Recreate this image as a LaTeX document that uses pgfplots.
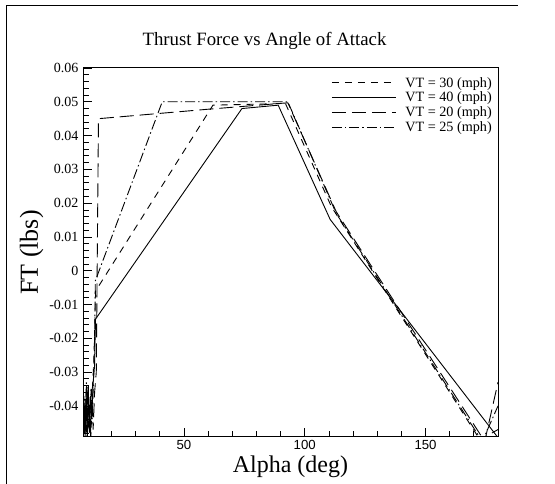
\documentclass[border=0pt]{standalone}
\usepackage{pgfplots}
\pgfplotsset{compat=1.18}
\usepackage{fontspec}
\setmainfont{Liberation Serif}
\newfontfamily\sansnum{Liberation Sans}
\newcommand\yt{\fontsize{14bp}{16bp}\selectfont}
\newcommand\xt{\sansnum\fontsize{13.2bp}{15bp}\selectfont}

% thrust force curves, one table per tunnel speed
\pgfplotstableread{
alpha ft
8.3 -0.049
8.6 -0.037
9.0 -0.048
9.4 -0.041
9.8 -0.050
10.2 -0.036
10.6 -0.047
11.0 -0.039
11.5 -0.049
12.0 -0.036
12.6 -0.028
13.1 -0.016
13.4 -0.006
62 0.0490
92 0.0495
111 0.0190
172.5 -0.0500
180 -0.0470
}\vtthirty
\pgfplotstableread{
alpha ft
8.3 -0.046
8.7 -0.039
9.1 -0.049
9.5 -0.036
9.9 -0.047
10.4 -0.034
10.8 -0.048
11.3 -0.037
11.8 -0.044
12.4 -0.033
13.0 -0.028
13.2 -0.020
13.4 -0.0143
74 0.0480
89 0.0490
110.5 0.0152
180 -0.0494
}\vtforty
\pgfplotstableread{
alpha ft
8.3 -0.044
8.7 -0.049
9.1 -0.038
9.5 -0.048
9.9 -0.034
10.3 -0.045
10.8 -0.040
11.3 -0.049
11.8 -0.035
12.4 -0.047
13.0 -0.036
13.7 -0.030
14.6 0.0450
60 0.0478
93 0.0497
113 0.0175
174.5 -0.0505
180 -0.0330
}\vttwenty
\pgfplotstableread{
alpha ft
8.3 -0.048
8.7 -0.041
9.1 -0.046
9.6 -0.033
10.0 -0.049
10.5 -0.038
11.0 -0.047
11.5 -0.035
12.0 -0.044
12.6 -0.031
13.0 -0.022
13.3 -0.003
41 0.0500
93 0.0500
113 0.0170
173.5 -0.0505
180 -0.0400
}\vttwentyfive

\begin{document}
\begin{tikzpicture}[x=1bp,y=1bp]
\useasboundingbox (0,0) rectangle (555,484);
% page frame
\draw[line width=1bp] (6,0) -- (6,478) -- (518,478);
\node[anchor=base,font=\fontsize{18.8bp}{21bp}\selectfont] at (264.5,438) {Thrust Force vs Angle of Attack};
\begin{axis}[
  at={(83bp,47bp)}, anchor=south west,
  scale only axis, width=415bp, height=369bp,
  xmin=8.2, xmax=180, ymin=-0.0492, ymax=0.06,
  axis line style={line width=1bp},
  tick align=inside, xtick pos=left, ytick pos=left,
  xtick={50,100,150},
  xticklabels={{\xt 50},{\xt 100},{\xt 150}},
  minor xtick={10,20,30,40,60,70,80,90,110,120,130,140,160,170},
  ytick={-0.04,-0.03,-0.02,-0.01,0,0.01,0.02,0.03,0.04,0.05,0.06},
  yticklabels={{\yt -0.04},{\yt -0.03},{\yt -0.02},{\yt -0.01},{\yt 0},{\yt 0.01},{\yt 0.02},{\yt 0.03},{\yt 0.04},{\yt 0.05},{\yt 0.06}},
  minor ytick={-0.048,-0.046,-0.044,-0.042,-0.038,-0.036,-0.034,-0.032,-0.028,-0.026,-0.024,-0.022,-0.018,-0.016,-0.014,-0.012,-0.008,-0.006,-0.004,-0.002,0.002,0.004,0.006,0.008,0.012,0.014,0.016,0.018,0.022,0.024,0.026,0.028,0.032,0.034,0.036,0.038,0.042,0.044,0.046,0.048,0.052,0.054,0.056,0.058},
  major tick length=9bp, minor tick length=5.5bp,
  every tick/.style={black, line width=0.8bp},
  scaled y ticks=false,
  yticklabel style={xshift=-1bp},
  xlabel={Alpha (deg)},
  ylabel={FT (lbs)},
  xlabel style={font=\fontsize{24bp}{27bp}\selectfont, yshift=1bp},
  ylabel style={font=\fontsize{26bp}{29bp}\selectfont, yshift=-1bp},
  legend style={draw=none, fill=none, at={(1,1)}, anchor=north east,
    xshift=-1bp, yshift=-5bp, font=\fontsize{14.2bp}{16bp}\selectfont,
    row sep=-0.5bp, cells={anchor=west},
    /tikz/every odd column/.append style={column sep=7bp}},
  legend image code/.code={\draw[#1] (0bp,0bp) -- (64bp,0bp);},
  every axis plot/.append style={black, line width=0.9bp},
]
\addplot[dash pattern=on 7bp off 6bp] table[x=alpha,y=ft] {\vtthirty};
\addlegendentry{VT = 30 (mph)}
\addplot[solid] table[x=alpha,y=ft] {\vtforty};
\addlegendentry{VT = 40 (mph)}
\addplot[dash pattern=on 14bp off 6bp] table[x=alpha,y=ft] {\vttwenty};
\addlegendentry{VT = 20 (mph)}
\addplot[dash pattern=on 10bp off 3bp on 1.5bp off 3bp] table[x=alpha,y=ft] {\vttwentyfive};
\addlegendentry{VT = 25 (mph)}
\end{axis}
\end{tikzpicture}
\end{document}
